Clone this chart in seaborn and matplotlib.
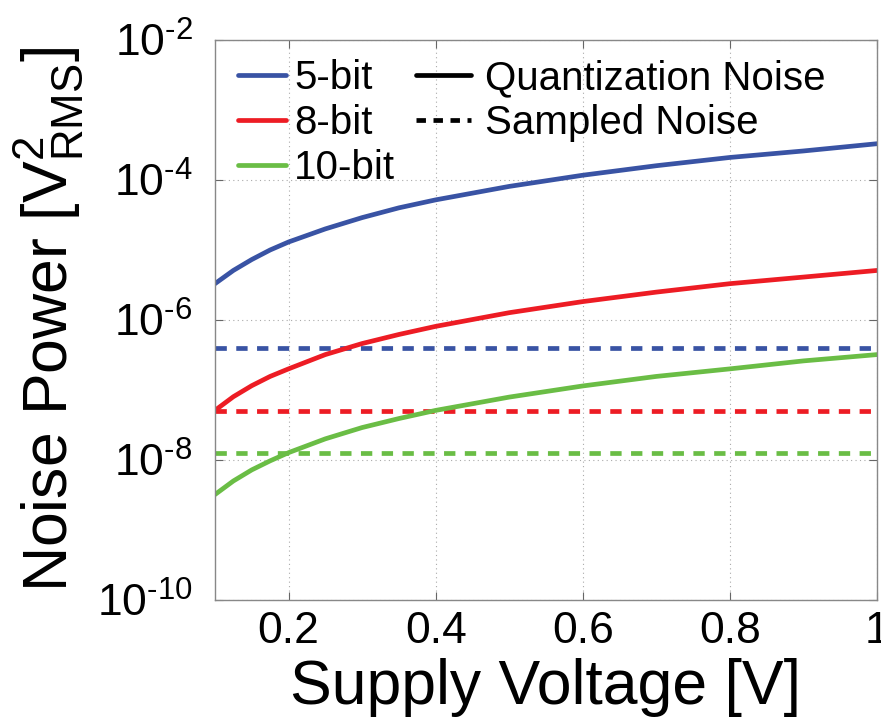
import math
import matplotlib
matplotlib.use("Agg")
import matplotlib.pyplot as plt
import matplotlib.ticker as mticker
from matplotlib.lines import Line2D
import seaborn as sns
import pandas as pd

# ---- data ----
supply_v = [0.1, 0.125, 0.15, 0.175, 0.2, 0.25, 0.3, 0.35, 0.4, 0.5, 0.6, 0.7, 0.8, 0.9, 1.0]
quant_5bit = [3.3e-6, 5.1e-6, 7.3e-6, 1.0e-5, 1.3e-5, 2.0e-5, 2.9e-5, 4.0e-5, 5.2e-5,
              8.1e-5, 1.17e-4, 1.6e-4, 2.1e-4, 2.6e-4, 3.3e-4]
quant_8bit = [5.1e-8, 8.0e-8, 1.15e-7, 1.56e-7, 2.0e-7, 3.2e-7, 4.6e-7, 6.2e-7, 8.1e-7,
              1.27e-6, 1.83e-6, 2.5e-6, 3.3e-6, 4.1e-6, 5.1e-6]
quant_10bit = [3.2e-9, 5.0e-9, 7.2e-9, 9.7e-9, 1.27e-8, 2.0e-8, 2.9e-8, 3.9e-8, 5.1e-8,
               7.9e-8, 1.14e-7, 1.56e-7, 2.0e-7, 2.6e-7, 3.2e-7]
sampled_levels = {"5-bit": 4.0e-7, "8-bit": 5.0e-8, "10-bit": 1.25e-8}
series_names = ["5-bit", "8-bit", "10-bit"]
colors = {"5-bit": "#3953A4", "8-bit": "#ED1C24", "10-bit": "#6ABD45"}
x_ticks = [0.2, 0.4, 0.6, 0.8, 1.0]
x_tick_labels = ["0.2", "0.4", "0.6", "0.8", "1"]
y_ticks = [1e-10, 1e-8, 1e-6, 1e-4, 1e-2]

rows = []
for name, vals in zip(series_names, [quant_5bit, quant_8bit, quant_10bit]):
    for v, p in zip(supply_v, vals):
        rows.append({"V": v, "P": p, "bits": name})
df = pd.DataFrame(rows)

sns.set_theme(style="white")
fam = ["Liberation Sans Narrow", "Liberation Sans", "DejaVu Sans"]
plt.rcParams["font.family"] = fam
plt.rcParams["mathtext.fontset"] = "custom"
plt.rcParams["mathtext.rm"] = "Liberation Sans"
plt.rcParams["mathtext.it"] = "Liberation Sans"
plt.rcParams["mathtext.bf"] = "Liberation Sans"
plt.rcParams["text.color"] = "black"
plt.rcParams["axes.labelcolor"] = "black"
plt.rcParams["xtick.color"] = "black"
plt.rcParams["ytick.color"] = "black"

fig = plt.figure(figsize=(8.81, 7.28), dpi=100)
ax = fig.add_axes([0.244, 0.176, 0.7515, 0.769])

sns.lineplot(data=df, x="V", y="P", hue="bits", palette=colors, hue_order=series_names,
             linewidth=3.4, ax=ax, legend=False)
for name in series_names:
    ax.axhline(sampled_levels[name], color=colors[name], linewidth=3.4,
               dashes=(2.4, 2.0), dash_capstyle="butt", zorder=1.5)

ax.set_yscale("log")
ax.set_xlim(0.1, 1.0)
ax.set_ylim(1e-10, 1e-2)
ax.set_xticks(x_ticks)
ax.set_xticklabels(x_tick_labels)
ax.yaxis.set_major_locator(mticker.FixedLocator(y_ticks))
ax.yaxis.set_minor_locator(mticker.NullLocator())
ax.yaxis.set_major_formatter(mticker.FuncFormatter(
    lambda v, p: r"$\mathregular{10}^{\text{-%d}}$" % abs(round(math.log10(v)))))

ax.grid(True, which="major", linestyle=(0, (1, 3)), color="#aaaaaa", linewidth=0.8)
for s in ax.spines.values():
    s.set_color("#888888")
    s.set_linewidth(1.0)
ax.tick_params(axis="both", which="major", direction="in", length=6, width=0.8,
               color="#666666", labelsize=32, labelcolor="black", top=True, right=True,
               left=True, bottom=True)
ax.tick_params(axis="y", pad=16)
ax.tick_params(axis="x", pad=8)

ax.set_xlabel("Supply Voltage [V]", fontsize=45, labelpad=4)
ax.set_ylabel(r"Noise Power [$\mathregular{V^{2}_{RMS}}$]", fontsize=45, labelpad=8)

color_handles = [Line2D([0], [0], color=colors[n], lw=3.4) for n in series_names]
leg1 = ax.legend(color_handles, series_names, loc="upper left", frameon=False,
                 fontsize=29, handlelength=1.2, handletextpad=0.2, labelspacing=0.18,
                 borderaxespad=0.0, bbox_to_anchor=(0.01, 0.995))
ax.add_artist(leg1)
style_handles = [Line2D([0], [0], color="black", lw=3.4),
                 Line2D([0], [0], color="black", lw=3.4, dashes=(2.0, 1.6))]
ax.legend(style_handles, ["Quantization Noise", "Sampled Noise"], loc="upper left",
          frameon=False, fontsize=29, handlelength=1.35, handletextpad=0.35,
          labelspacing=0.18, borderaxespad=0.0, bbox_to_anchor=(0.28, 0.995))

fig.savefig("out.png", dpi=100)
